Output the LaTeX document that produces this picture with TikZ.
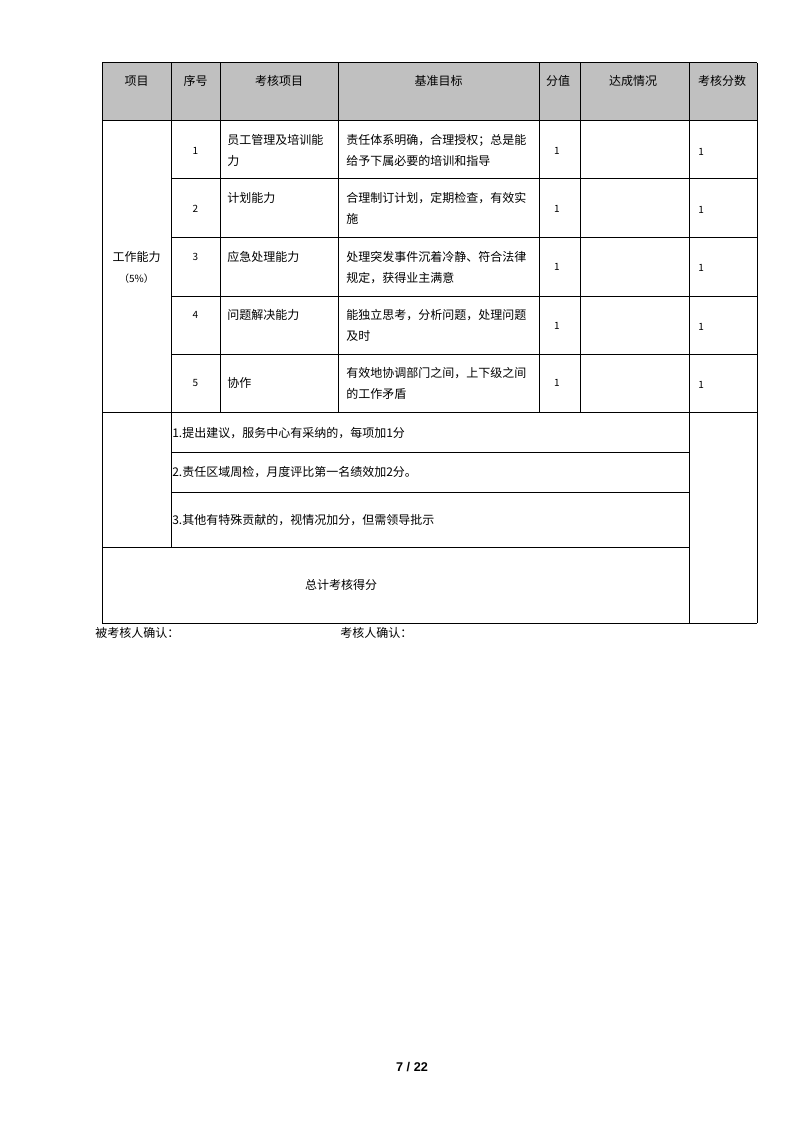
\documentclass[tikz,border=0pt]{standalone}
\usepackage{fontspec}
\setmainfont{Noto Sans CJK SC}
\newfontfamily\pgnumfont{Liberation Sans}
\definecolor{hdrgray}{RGB}{192,192,192}
\begin{document}
\begin{tikzpicture}[x=0.75pt,y=-0.75pt,
  rule/.style={line width=0.75pt,draw=black},
  txt/.style={inner sep=0pt,font=\fontsize{9}{15.75}\selectfont,align=left},
  ctxt/.style={inner sep=0pt,font=\fontsize{9}{15.75}\selectfont,align=center}]
\useasboundingbox (0,0) rectangle (794,1123);
% header background
\fill[hdrgray] (102,63) rectangle (757,121);
% horizontal rules
\draw[rule] (102,63) -- (757,63);
\draw[rule] (102,121) -- (757,121);
\draw[rule] (171,179) -- (757,179);
\draw[rule] (171,237.5) -- (757,237.5);
\draw[rule] (171,296) -- (757,296);
\draw[rule] (171,354) -- (757,354);
\draw[rule] (102,412) -- (757,412);
\draw[rule] (171,452) -- (689,452);
\draw[rule] (171,492) -- (689,492);
\draw[rule] (102,547) -- (689,547);
\draw[rule] (102,623) -- (757,623);
% vertical rules
\draw[rule] (102,63) -- (102,623);
\draw[rule] (171,63) -- (171,547);
\draw[rule] (220,63) -- (220,412);
\draw[rule] (338,63) -- (338,412);
\draw[rule] (539,63) -- (539,412);
\draw[rule] (580,63) -- (580,412);
\draw[rule] (689,63) -- (689,623);
\draw[rule] (757,63) -- (757,623);
% header
\node[ctxt] (h1) at (136.5,81) {项目};
\node[ctxt] (h2) at (195.5,81) {序号};
\node[ctxt] (h3) at (279,81) {考核项目};
\node[ctxt] (h4) at (438.5,81) {基准目标};
\node[ctxt] (h5) at (558,81) {分值};
\node[ctxt] (h6) at (633,81) {达成情况};
\node[ctxt] (h7) at (722,81) {考核分数};
% category
\node[ctxt] (cat) at (136.5,267.5) {工作能力\\{\fontsize{7.5}{9}\selectfont（5\%）}};
% row 1
\node[ctxt] (n1) at (195.5,151) {\fontsize{7.5}{9}\selectfont 1};
\node[txt,anchor=west] (k1) at (227,150.5) {员工管理及培训能\\力};
\node[txt,anchor=west] (g1) at (346,150.5) {责任体系明确，合理授权；总是能\\给予下属必要的培训和指导};
\node[ctxt] (s1) at (557,151) {\fontsize{7.5}{9}\selectfont 1};
\node[txt,anchor=west] (r1) at (698,152) {\fontsize{7.5}{9}\selectfont 1};
% row 2
\node[ctxt] (n2) at (195.5,209) {\fontsize{7.5}{9}\selectfont 2};
\node[txt,anchor=west] (k2) at (227,198) {计划能力};
\node[txt,anchor=west] (g2) at (346,208.5) {合理制订计划，定期检查，有效实\\施};
\node[ctxt] (s2) at (557,209) {\fontsize{7.5}{9}\selectfont 1};
\node[txt,anchor=west] (r2) at (698,210) {\fontsize{7.5}{9}\selectfont 1};
% row 3
\node[ctxt] (n3) at (195.5,257) {\fontsize{7.5}{9}\selectfont 3};
\node[txt,anchor=west] (k3) at (227,257) {应急处理能力};
\node[txt,anchor=west] (g3) at (346,267.5) {处理突发事件沉着冷静、符合法律\\规定，获得业主满意};
\node[ctxt] (s3) at (557,267) {\fontsize{7.5}{9}\selectfont 1};
\node[txt,anchor=west] (r3) at (698,268) {\fontsize{7.5}{9}\selectfont 1};
% row 4
\node[ctxt] (n4) at (195.5,315) {\fontsize{7.5}{9}\selectfont 4};
\node[txt,anchor=west] (k4) at (227,315) {问题解决能力};
\node[txt,anchor=west] (g4) at (346,325.5) {能独立思考，分析问题，处理问题\\及时};
\node[ctxt] (s4) at (557,326) {\fontsize{7.5}{9}\selectfont 1};
\node[txt,anchor=west] (r4) at (698,327) {\fontsize{7.5}{9}\selectfont 1};
% row 5
\node[ctxt] (n5) at (195.5,383) {\fontsize{7.5}{9}\selectfont 5};
\node[txt,anchor=west] (k5) at (227,383) {协作};
\node[txt,anchor=west] (g5) at (346,383) {有效地协调部门之间，上下级之间\\的工作矛盾};
\node[ctxt] (s5) at (557,383) {\fontsize{7.5}{9}\selectfont 1};
\node[txt,anchor=west] (r5) at (698,385) {\fontsize{7.5}{9}\selectfont 1};
% bonus rows
\node[txt,anchor=west] (b1) at (172,433) {1.提出建议，服务中心有采纳的，每项加1分};
\node[txt,anchor=west] (b2) at (172,472) {2.责任区域周检，月度评比第一名绩效加2分。};
\node[txt,anchor=west] (b3) at (172,520) {3.其他有特殊贡献的，视情况加分，但需领导批示};
% total
\node[ctxt] (tot) at (341,585) {总计考核得分};
% footer
\node[txt,anchor=west] (f1) at (95,633) {被考核人确认：};
\node[txt,anchor=west] (f2) at (340,633) {考核人确认：};
\node[inner sep=0pt,font=\pgnumfont\bfseries\fontsize{9.5}{11}\selectfont] (pg) at (412,1067) {7 / 22};
\end{tikzpicture}
\end{document}
